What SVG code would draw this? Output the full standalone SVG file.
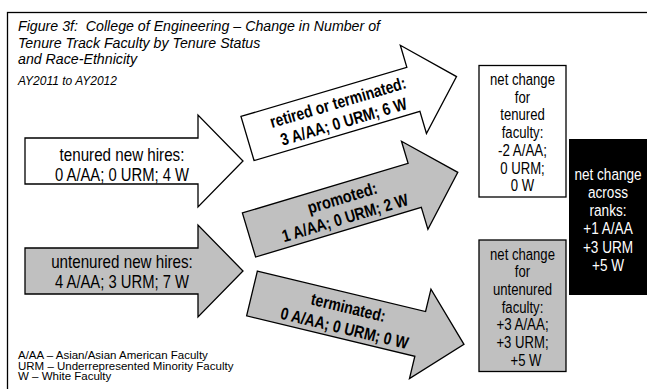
<svg xmlns="http://www.w3.org/2000/svg" width="647" height="389" viewBox="0 0 647 389">
  <defs>
    <style>
      .frame { fill: none; stroke: #000; stroke-width: 1.3; }
      .arrow { stroke: #000; stroke-width: 1.3; stroke-linejoin: miter; }
      .white { fill: #fff; }
      .grey { fill: #c0c0c0; }
      .title { font-family: "Liberation Sans", Arial, sans-serif; font-style: italic; fill: #000; white-space: pre; }
      .narrow { font-family: "Liberation Sans Narrow", "Arial Narrow", "Liberation Sans", sans-serif; text-anchor: middle; fill: #000; }
      .lbl { font-size: 18.5px; }
      .rot { font-size: 17px; font-weight: bold; }
      .box { font-size: 16px; }
      .big { font-family: "Liberation Sans", Arial, sans-serif; text-anchor: middle; font-size: 17px; fill: #fff; }
      .legend { font-family: "Liberation Sans", Arial, sans-serif; font-size: 11.5px; fill: #000; }
    </style>
    <!-- one block arrow shape shared by all flows: shaft 173 long, head 45 long -->
    <path id="blockArrow" d="M0,-23 H173 V-46 L218,0 L173,46 V23 H0 Z"/>
  </defs>

  <rect width="647" height="389" fill="#fff"/>
  <rect class="frame" x="7.5" y="12.5" width="660" height="400"/>

  <!-- heading -->
  <g id="heading">
    <text class="title" x="18" y="31" font-size="14.2">Figure 3f:  College of Engineering – Change in Number of</text>
    <text class="title" x="18" y="47.5" font-size="14.2">Tenure Track Faculty by Tenure Status</text>
    <text class="title" x="18" y="64" font-size="14.2">and Race-Ethnicity</text>
    <text class="title" x="18" y="84.5" font-size="12">AY2011 to AY2012</text>
  </g>

  <!-- flows between groups (narrow face widths fixed with textLength) -->
  <g id="connectors">
    <g id="tenured-hires" transform="translate(25,161)">
      <use href="#blockArrow" class="arrow white"/>
      <text class="narrow lbl" x="97" y="0" textLength="124.8" lengthAdjust="spacingAndGlyphs">tenured new hires:</text>
      <text class="narrow lbl" x="97" y="20" textLength="134" lengthAdjust="spacingAndGlyphs">0 A/AA; 0 URM; 4 W</text>
    </g>
    <g id="untenured-hires" transform="translate(25,271)">
      <use href="#blockArrow" class="arrow grey"/>
      <text class="narrow lbl" x="97" y="-3" textLength="141.7" lengthAdjust="spacingAndGlyphs">untenured new hires:</text>
      <text class="narrow lbl" x="97" y="17" textLength="134" lengthAdjust="spacingAndGlyphs">4 A/AA; 3 URM; 7 W</text>
    </g>
    <g id="retired" transform="translate(247.5,138.5) rotate(-16.5)">
      <use href="#blockArrow" class="arrow white"/>
      <text class="narrow rot" x="97" y="-3" textLength="141" lengthAdjust="spacingAndGlyphs">retired or terminated:</text>
      <text class="narrow rot" x="97" y="17" textLength="131" lengthAdjust="spacingAndGlyphs">3 A/AA; 0 URM; 6 W</text>
    </g>
    <g id="promoted" transform="translate(249,235) rotate(-16.7)">
      <use href="#blockArrow" class="arrow grey"/>
      <text class="narrow rot" x="100" y="-3" textLength="72" lengthAdjust="spacingAndGlyphs">promoted:</text>
      <text class="narrow rot" x="97" y="17" textLength="131" lengthAdjust="spacingAndGlyphs">1 A/AA; 0 URM; 2 W</text>
    </g>
    <g id="terminated" transform="translate(252,293.5) rotate(13.5)">
      <use href="#blockArrow" class="arrow grey"/>
      <text class="narrow rot" x="97" y="-3" textLength="76" lengthAdjust="spacingAndGlyphs">terminated:</text>
      <text class="narrow rot" x="98" y="18" textLength="131" lengthAdjust="spacingAndGlyphs">0 A/AA; 0 URM; 0 W</text>
    </g>
  </g>

  <!-- net change for tenured faculty -->
  <g id="net-tenured">
    <rect x="479" y="65.5" width="87" height="131.5" fill="#fff" stroke="#000" stroke-width="1.3"/>
    <text class="narrow box" x="522.5" y="85" textLength="64.9" lengthAdjust="spacingAndGlyphs">net change</text>
    <text class="narrow box" x="522.5" y="102.7" textLength="15.3" lengthAdjust="spacingAndGlyphs">for</text>
    <text class="narrow box" x="522.5" y="120.4" textLength="44.5" lengthAdjust="spacingAndGlyphs">tenured</text>
    <text class="narrow box" x="522.5" y="138.1" textLength="41.6" lengthAdjust="spacingAndGlyphs">faculty:</text>
    <text class="narrow box" x="522.5" y="155.8" textLength="48.9" lengthAdjust="spacingAndGlyphs">-2 A/AA;</text>
    <text class="narrow box" x="522.5" y="173.5" textLength="44.5" lengthAdjust="spacingAndGlyphs">0 URM;</text>
    <text class="narrow box" x="522.5" y="191.2" textLength="23.3" lengthAdjust="spacingAndGlyphs">0 W</text>
  </g>

  <!-- net change for untenured faculty -->
  <g id="net-untenured">
    <rect x="479" y="240" width="87" height="131.5" fill="#c0c0c0" stroke="#000" stroke-width="1.3"/>
    <text class="narrow box" x="522.5" y="259.5" textLength="64.9" lengthAdjust="spacingAndGlyphs">net change</text>
    <text class="narrow box" x="522.5" y="277.2" textLength="15.3" lengthAdjust="spacingAndGlyphs">for</text>
    <text class="narrow box" x="522.5" y="294.9" textLength="59.1" lengthAdjust="spacingAndGlyphs">untenured</text>
    <text class="narrow box" x="522.5" y="312.6" textLength="41.6" lengthAdjust="spacingAndGlyphs">faculty:</text>
    <text class="narrow box" x="522.5" y="330.3" textLength="52.2" lengthAdjust="spacingAndGlyphs">+3 A/AA;</text>
    <text class="narrow box" x="522.5" y="348" textLength="52.1" lengthAdjust="spacingAndGlyphs">+3 URM;</text>
    <text class="narrow box" x="526" y="365.7" textLength="31" lengthAdjust="spacingAndGlyphs">+5 W</text>
  </g>

  <!-- net change across ranks: condensed horizontally to the narrow face width -->
  <g id="net-all">
    <rect x="569" y="139" width="78" height="156" fill="#000"/>
    <g transform="translate(608,0) scale(0.8,1)">
      <text class="big" x="0" y="179.6">net change</text>
      <text class="big" x="0" y="197.9">across</text>
      <text class="big" x="0" y="216.2">ranks:</text>
      <text class="big" x="0" y="234.5">+1 A/AA</text>
      <text class="big" x="0" y="252.8">+3 URM</text>
      <text class="big" x="0" y="271.1">+5 W</text>
    </g>
  </g>

  <!-- key -->
  <g id="legend">
    <text class="legend" x="18" y="359">A/AA – Asian/Asian American Faculty</text>
    <text class="legend" x="18" y="369.5">URM – Underrepresented Minority Faculty</text>
    <text class="legend" x="18" y="380">W – White Faculty</text>
  </g>
</svg>
